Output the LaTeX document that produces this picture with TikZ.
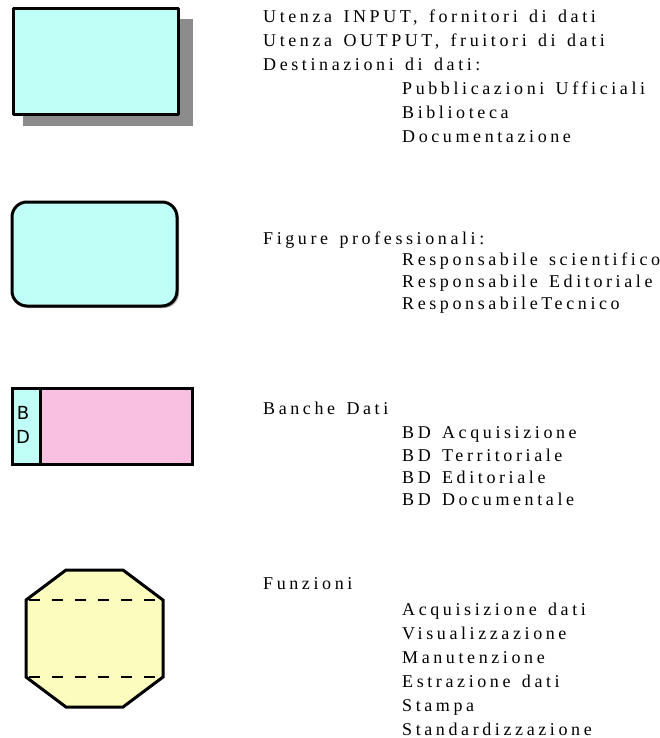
\documentclass[tikz,border=0pt]{standalone}
\usepackage{fontspec}
\setmainfont[LetterSpace=20,WordSpace=1.4]{Liberation Serif}
\newfontfamily\bdfont{DejaVu Sans}
\definecolor{cianochiaro}{RGB}{192,255,248}
\definecolor{rosa}{RGB}{250,192,226}
\definecolor{giallino}{RGB}{252,252,190}
\definecolor{ombra}{RGB}{140,140,140}
\tikzset{
  voce/.style={anchor=base west, inner sep=0pt, font=\fontsize{18}{24}\selectfont},
  bordo/.style={draw=black, line width=3pt},
  lettera/.style={inner sep=0pt, font=\bdfont\fontsize{18}{20}\selectfont}
}
\begin{document}
\begin{tikzpicture}[x=1pt,y=-1pt]
\useasboundingbox (0,0) rectangle (660,738);

\fill[ombra] (23,19) rectangle (193,126);
\fill[cianochiaro] (13,9) rectangle (178,115);
\draw[bordo, line join=round] (13,9) rectangle (178,115);

\fill[ombra!70, rounded corners=15pt] (14,204) rectangle (179,308);
\fill[cianochiaro, rounded corners=15pt] (12,202) rectangle (177,306);
\draw[bordo, rounded corners=15pt] (12,202) rectangle (177,306);

\fill[rosa] (40,388) rectangle (192,464);
\fill[cianochiaro] (12,388) rectangle (40,464);
\draw[bordo] (12,388) rectangle (192,464);
\draw[bordo] (40,388) -- (40,464);
\node[lettera] (b) at (23,413) {B};
\node[lettera] (d) at (23,437) {D};

\fill[giallino] (66,570) -- (123,570) -- (163,600) -- (163,677) -- (123,707) -- (66,707) -- (26,677) -- (26,600) -- cycle;
\draw[bordo, line join=miter] (66,570) -- (123,570) -- (163,600) -- (163,677) -- (123,707) -- (66,707) -- (26,677) -- (26,600) -- cycle;
\draw[line width=1.3pt, dash pattern=on 11pt off 12pt, dash phase=-3pt] (26,600) -- (163,600);
\draw[line width=1.3pt, dash pattern=on 11pt off 12pt, dash phase=-3pt] (26,677) -- (163,677);

\node[voce] (u1) at (263,23) {Utenza INPUT, fornitori di dati};
\node[voce] (u2) at (263,47) {Utenza OUTPUT, fruitori di dati};
\node[voce] (u3) at (263,71) {Destinazioni di dati:};
\node[voce] (u4) at (402,95) {Pubblicazioni Ufficiali};
\node[voce] (u5) at (402,119) {Biblioteca};
\node[voce] (u6) at (402,143) {Documentazione};

\node[voce] (f1) at (263,244) {Figure professionali:};
\node[voce] (f2) at (402,265) {Responsabile scientifico};
\node[voce] (f3) at (402,287) {Responsabile Editoriale};
\node[voce] (f4) at (402,309) {ResponsabileTecnico};

\node[voce] (bd1) at (263,414) {Banche Dati};
\node[voce] (bd2) at (402,438) {BD Acquisizione};
\node[voce] (bd3) at (402,461) {BD Territoriale};
\node[voce] (bd4) at (402,483) {BD Editoriale};
\node[voce] (bd5) at (402,505) {BD Documentale};

\node[voce] (fz1) at (263,589) {Funzioni};
\node[voce] (fz2) at (402,615) {Acquisizione dati};
\node[voce] (fz3) at (402,639) {Visualizzazione};
\node[voce] (fz4) at (402,663) {Manutenzione};
\node[voce] (fz5) at (402,687) {Estrazione dati};
\node[voce] (fz6) at (402,711) {Stampa};
\node[voce] (fz7) at (402,735) {Standardizzazione};
\end{tikzpicture}
\end{document}
